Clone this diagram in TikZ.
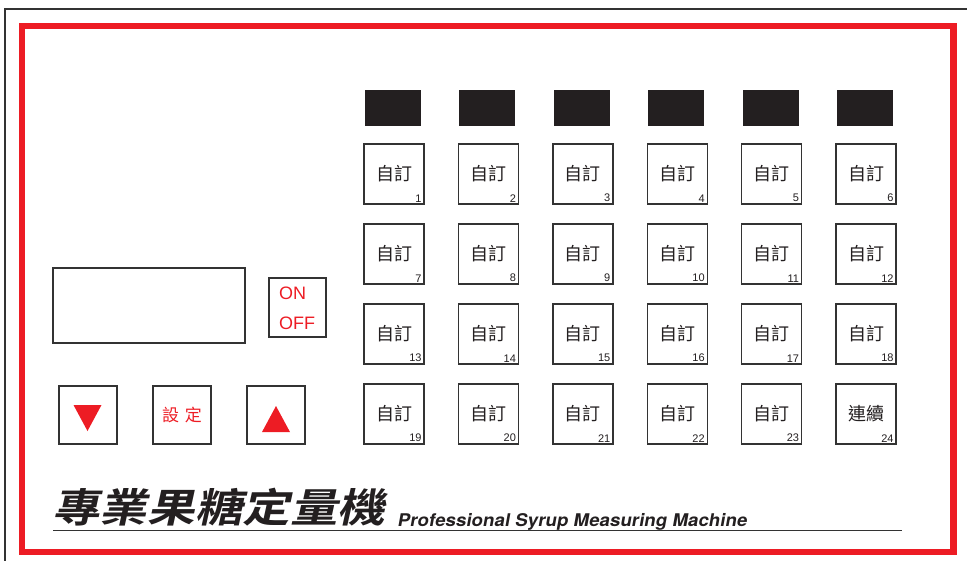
\documentclass[tikz,border=0pt]{standalone}
\usepackage{fontspec}
\setmainfont{Liberation Sans}
\newfontfamily\cjk{Noto Sans CJK TC}
\newfontfamily\cjktitle[FakeSlant=0.22,FakeStretch=1.19,BoldFont={* Bold}]{Noto Sans CJK TC}
\newfontfamily\engtitle[FakeSlant=0.18,FakeStretch=1.07]{TeX Gyre Heros}
\definecolor{pred}{HTML}{ED1C24}
\definecolor{pline}{HTML}{333333}
\definecolor{pblack}{HTML}{231F20}
\tikzset{
  btn/.style={draw=pline, line width=1.4pt, minimum width=60pt, minimum height=60pt, inner sep=0pt, fill=white},
  ctrlbtn/.style={draw=pline, line width=1.4pt, minimum width=58pt, minimum height=58pt, inner sep=0pt},
  disp/.style={fill=pblack, draw=none, minimum width=56pt, minimum height=36pt, inner sep=0pt},
  keytxt/.style={font=\cjk\fontsize{18pt}{18pt}\selectfont, text=pblack, inner sep=0pt},
  numtxt/.style={font=\fontsize{11pt}{11pt}\selectfont, text=pblack, inner sep=0pt, anchor=south east},
  redtxt/.style={font=\fontsize{18pt}{18pt}\selectfont, text=pred, inner sep=0pt},
  tri/.style={fill=pred, draw=none}
}
\begin{document}
\begin{tikzpicture}[x=1pt,y=-1pt]
\useasboundingbox (0,0) rectangle (967,560);
% outer frame (top and left only visible)
\coordinate (ftr) at (970,9);
\coordinate (ftl) at (5,9);
\coordinate (fbl) at (5,563);
\draw[pline, line width=1.6pt] (ftr) -- (ftl) -- (fbl);
% red frame
\draw[pred, line width=6.5pt] (22,26) rectangle (953.5,552);
% display rectangles
\foreach \c in {0,...,5} {
  \node[disp] (d\c) at ({365+28+\c*94.4},108) {};
}
% key grid
\foreach \r in {0,...,3} {
  \foreach \c in {0,...,5} {
    \pgfmathtruncatemacro\n{\r*6+\c+1}
    \node[btn] (b\n) at ({364+30+\c*94.4},{144+30+\r*80}) {};
    \ifnum\n=24
      \node[keytxt] (t\n) at (b\n) {連續};
    \else
      \node[keytxt] (t\n) at (b\n) {自訂};
    \fi
    \node[numtxt] (n\n) at ([xshift=-3pt,yshift=2.5pt]b\n.south east) {\n};
  }
}
% left display
\node[draw=pline, line width=1.4pt, minimum width=192pt, minimum height=75pt, inner sep=0pt] (lcd) at (149,305.5) {};
% on/off
\node[draw=pline, line width=1.4pt, minimum width=57pt, minimum height=59pt, inner sep=0pt] (onoff) at (297.5,307.5) {};
\node[redtxt, anchor=west] (on) at (279,293) {ON};
\node[redtxt, anchor=west] (off) at (279,323) {OFF};
% control buttons
\node[ctrlbtn] (down) at (88,415) {};
\node[ctrlbtn] (set) at (182,415) {};
\node[ctrlbtn] (up) at (276,415) {};
\fill[tri] (73.5,405) -- (101.5,405) -- (87.5,431) -- cycle;
\fill[tri] (262,432) -- (290,432) -- (276,406) -- cycle;
\node[font=\cjk\fontsize{17pt}{17pt}\selectfont, text=pred, inner sep=0pt] (settxt) at (set) {設\hspace{6pt}定};
% title
\node[font=\cjktitle\bfseries\fontsize{40pt}{40pt}\selectfont, text=pblack, inner sep=0pt, anchor=base west] (title) at (52,522) {專業果糖定量機};
\node[font=\engtitle\bfseries\fontsize{17.5pt}{17.5pt}\selectfont, text=pblack, inner sep=0pt, anchor=base west] (sub) at (397,526) {Professional Syrup Measuring Machine};
\coordinate (ul) at (53,530.5);
\coordinate (ur) at (902,530.5);
\draw[pline, line width=1.5pt] (ul) -- (ur);
\end{tikzpicture}
\end{document}
